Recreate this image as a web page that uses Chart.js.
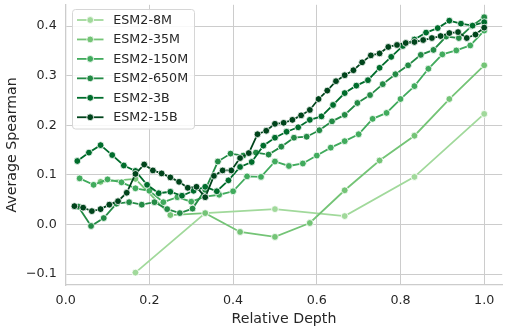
<!DOCTYPE html>
<html>
<head>
<meta charset="utf-8">
<script src="https://cdn.jsdelivr.net/npm/chart.js@4"></script>
<style>
  html, body { margin: 0; padding: 0; background: #fff; }
  #wrap { width: 507px; height: 328px; }
</style>
</head>
<body>
<div id="wrap"><canvas id="depthChart" width="507" height="328"></canvas></div>
<script>
// Average Spearman per layer, layers in order (relative depth = layer / n_layers)
const modelNames = ["ESM2-8M", "ESM2-35M", "ESM2-150M", "ESM2-650M", "ESM2-3B", "ESM2-15B"];
const modelColors = ["#a1d99b", "#74c476", "#41ab5d", "#238b45", "#006d2c", "#00441b"];

const esm8M = [-0.097, 0.023, 0.031, 0.017, 0.096, 0.223];

const esm35M = [0.086, 0.092, 0.019, 0.023, -0.015, -0.025, 0.003, 0.069, 0.129, 0.179, 0.253, 0.321];

const esm150M = [0.093, 0.080, 0.091, 0.085, 0.073, 0.068, 0.045, 0.055, 0.046, 0.056,
                 0.060, 0.067, 0.097, 0.096, 0.127, 0.118, 0.123, 0.139, 0.155, 0.168,
                 0.182, 0.213, 0.225, 0.253, 0.279, 0.314, 0.343, 0.351, 0.361, 0.391];

const esm650M = [0.036, -0.003, 0.013, 0.042, 0.045, 0.040, 0.045, 0.031, 0.023, 0.032,
                 0.070, 0.127, 0.143, 0.139, 0.145, 0.141, 0.157, 0.175, 0.177, 0.190,
                 0.208, 0.221, 0.245, 0.261, 0.283, 0.303, 0.321, 0.342, 0.352, 0.379,
                 0.376, 0.400, 0.418];

const esm3B = [0.128, 0.145, 0.160, 0.140, 0.119, 0.108, 0.080, 0.063, 0.066, 0.058,
               0.068, 0.076, 0.067, 0.089, 0.116, 0.126, 0.159, 0.175, 0.187, 0.196,
               0.211, 0.218, 0.241, 0.265, 0.280, 0.291, 0.316, 0.338, 0.360, 0.373,
               0.387, 0.396, 0.411, 0.405, 0.401, 0.408];

const esm15B = [0.037, 0.034, 0.027, 0.031, 0.040, 0.047, 0.064, 0.102, 0.121, 0.109,
                0.103, 0.095, 0.086, 0.074, 0.076, 0.055, 0.098, 0.109, 0.109, 0.134,
                0.144, 0.182, 0.189, 0.203, 0.205, 0.211, 0.220, 0.231, 0.253, 0.270,
                0.289, 0.301, 0.311, 0.327, 0.341, 0.345, 0.358, 0.362, 0.366, 0.368,
                0.372, 0.376, 0.380, 0.386, 0.388, 0.376, 0.383, 0.397];

const seriesValues = [esm8M, esm35M, esm150M, esm650M, esm3B, esm15B];

const xTicks = [0.0, 0.2, 0.4, 0.6, 0.8, 1.0];
const yTicks = [-0.1, 0.0, 0.1, 0.2, 0.3, 0.4];

const FONT = "'DejaVu Sans', sans-serif";
const TEXT = "#262626";
const GRID = "#cccccc";

function toPoints(vals) {
    return vals.map((v, i) => ({ x: (i + 1) / vals.length, y: v }));
}

const datasets = seriesValues.map((vals, k) => ({
    label: modelNames[k],
    data: toPoints(vals),
    borderColor: modelColors[k],
    backgroundColor: modelColors[k],
    borderWidth: 1.8,
    pointRadius: 3.4,
    pointBorderWidth: 0.8,
    pointBorderColor: "#ffffff",
    pointBackgroundColor: modelColors[k],
    tension: 0,
    order: modelNames.length - k
}));

// no extra room for half tick labels at the axis ends
function noEdgePadding(s) {
    s.paddingTop = 0;
    s.paddingBottom = 0;
    s.paddingLeft = 0;
    s.paddingRight = 0;
}

// matplotlib-style legend: line with marker, inside a rounded frame
const lineLegend = {
    id: "lineLegend",
    afterDatasetsDraw(chart) {
        const c = chart.ctx;
        const x0 = 72.5, y0 = 9.5, w = 122, h = 119.5;
        c.save();
        c.beginPath();
        c.roundRect(x0, y0, w, h, 3);
        c.fillStyle = "rgba(255,255,255,0.85)";
        c.fill();
        c.strokeStyle = "#d6d6d6";
        c.lineWidth = 1;
        c.stroke();
        c.font = "12.7px " + FONT;
        c.textBaseline = "middle";
        modelNames.forEach((name, k) => {
            const y = 20 + k * 19.45;
            c.strokeStyle = modelColors[k];
            c.lineWidth = 1.8;
            c.beginPath();
            c.moveTo(77, y);
            c.lineTo(103.5, y);
            c.stroke();
            c.beginPath();
            c.arc(90.2, y, 3.4, 0, Math.PI * 2);
            c.fillStyle = modelColors[k];
            c.fill();
            c.strokeStyle = "#ffffff";
            c.lineWidth = 0.8;
            c.stroke();
            c.fillStyle = TEXT;
            c.fillText(name, 113.3, y + 0.5);
        });
        c.restore();
    }
};

new Chart(document.getElementById("depthChart"), {
    type: "line",
    data: { datasets },
    options: {
        responsive: false,
        animation: false,
        events: [],
        layout: { padding: { top: 2.7, right: 4, left: 0, bottom: 0 } },
        plugins: {
            legend: { display: false },
            tooltip: { enabled: false }
        },
        scales: {
            x: {
                type: "linear",
                min: 0,
                max: 1.043,
                afterBuildTicks: s => { s.ticks = xTicks.map(v => ({ value: v })); },
                afterFit: s => { s.height = 43; noEdgePadding(s); },
                grid: { color: GRID, lineWidth: 1, drawTicks: false },
                border: { color: GRID, width: 1.3 },
                ticks: {
                    color: TEXT,
                    padding: 8,
                    font: { family: FONT, size: 12.7 },
                    callback: v => v.toFixed(1)
                },
                title: {
                    display: true,
                    text: "Relative Depth",
                    color: TEXT,
                    padding: { top: 1, bottom: 0 },
                    font: { family: FONT, size: 14.2 }
                }
            },
            y: {
                type: "linear",
                min: -0.122,
                max: 0.443,
                afterBuildTicks: s => { s.ticks = yTicks.map(v => ({ value: v })); },
                afterFit: s => { s.width = 65.7; noEdgePadding(s); },
                grid: { color: GRID, lineWidth: 1, drawTicks: false },
                border: { color: GRID, width: 1.3 },
                ticks: {
                    color: TEXT,
                    padding: 9,
                    font: { family: FONT, size: 12.7 },
                    callback: v => (v < 0 ? "\u2212" + Math.abs(v).toFixed(1) : v.toFixed(1))
                },
                title: {
                    display: true,
                    text: "Average Spearman",
                    color: TEXT,
                    padding: { top: 4, bottom: 0 },
                    font: { family: FONT, size: 14.2 }
                }
            }
        }
    },
    plugins: [lineLegend]
});
</script>
</body>
</html>
